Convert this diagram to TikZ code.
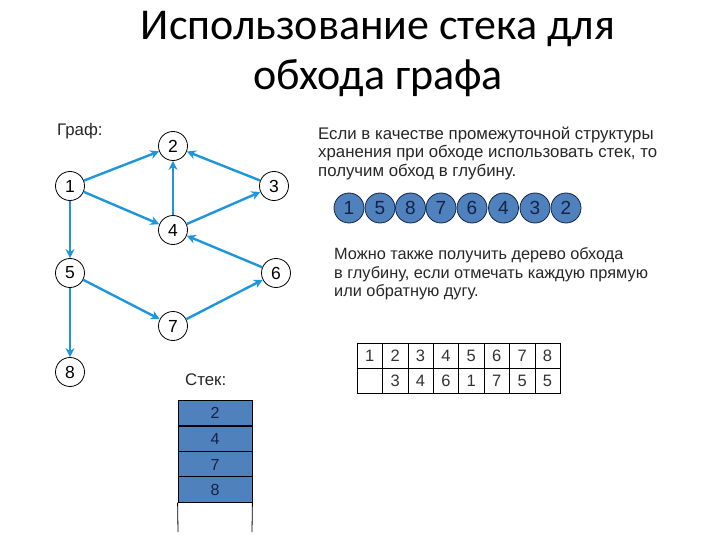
\documentclass[tikz,border=0pt]{standalone}
\usepackage{fontspec}
\setmainfont{Liberation Sans}
\newfontfamily\titlefont{Carlito}
\usetikzlibrary{arrows.meta}
\definecolor{edgeblue}{RGB}{30,150,220}
\definecolor{stackblue}{RGB}{79,129,189}
\definecolor{navy}{RGB}{20,35,70}
\begin{document}
\begin{tikzpicture}[x=1pt,y=-1pt,
 vtx/.style={circle,draw=black,line width=0.8pt,fill=white,minimum size=29pt,inner sep=0pt,font=\fontsize{17.5}{17.5}\selectfont},
 seq/.style={circle,draw=navy,line width=0.8pt,fill=stackblue,minimum size=30pt,inner sep=0pt,font=\fontsize{19}{19}\selectfont,text=navy},
 edge/.style={draw=edgeblue,line width=2.4pt,-{Stealth[length=9pt,width=9pt]}},
 body/.style={font=\fontsize{16.8}{18.6}\selectfont,align=left,inner sep=0pt,text=black!85},
 cell/.style={draw=black,line width=0.6pt,minimum width=25.4pt,minimum height=25pt,inner sep=0pt,font=\fontsize{16.5}{16.5}\selectfont,text=black!80},
 stk/.style={draw=black,line width=0.8pt,fill=stackblue,minimum width=74pt,minimum height=25.5pt,inner sep=0pt,font=\fontsize{16}{16}\selectfont,text=navy},
 ttl/.style={font=\titlefont\fontsize{44}{50}\selectfont,inner sep=0pt}
]
\useasboundingbox (0,0) rectangle (720,540);
% title
\node[ttl] (t1) at (378,29) {Использование стека для};
\node[ttl] (t2) at (378,78) {обхода графа};
% graph
\node[body,anchor=west] (glabel) at (57,131) {Граф:};
\node[vtx] (v1) at (70,186) {1};
\node[vtx] (v2) at (173,146) {2};
\node[vtx] (v3) at (274,186) {3};
\node[vtx] (v4) at (173,230) {4};
\node[vtx] (v5) at (70,273) {5};
\node[vtx] (v6) at (276,273) {6};
\node[vtx] (v7) at (173,326) {7};
\node[vtx] (v8) at (70,372) {8};
\draw[edge] (v1) -- (v2);
\draw[edge] (v3) -- (v2);
\draw[edge] (v4) -- (v2);
\draw[edge] (v1) -- (v4);
\draw[edge] (v4) -- (v3);
\draw[edge] (v1) -- (v5);
\draw[edge] (v6) -- (v4);
\draw[edge] (v5) -- (v7);
\draw[edge] (v7) -- (v6);
\draw[edge] (v5) -- (v8);
% text 1
\node[body,anchor=north west] (p1) at (318,126.5) {Если в качестве промежуточной структуры\\хранения при обходе использовать стек, то\\получим обход в глубину.};
% sequence
\node[seq] (s1) at (349,208) {1};
\node[seq] (s2) at (380,208) {5};
\node[seq] (s3) at (410.5,208) {8};
\node[seq] (s4) at (441,208) {7};
\node[seq] (s5) at (472,208) {6};
\node[seq] (s6) at (503.5,208) {4};
\node[seq] (s7) at (535,208) {3};
\node[seq] (s8) at (566,208) {2};
% text 2
\node[body,font=\fontsize{16.3}{18.6}\selectfont,anchor=north west] (p2) at (334,247.5) {Можно также получить дерево обхода\\в глубину, если отмечать каждую прямую\\или обратную дугу.};
% table
\foreach \i/\a/\b in {1/1/{},2/2/3,3/3/4,4/4/6,5/5/1,6/6/7,7/7/5,8/8/5}{
  \node[cell] (ta\i) at ({357+25.4*(\i-0.5)},355.5) {\a};
  \node[cell] (tb\i) at ({357+25.4*(\i-0.5)},380.5) {\b};
}
% stack
\node[body,anchor=west] (slabel) at (185,380) {Стек:};
\node[stk] (k1) at (215,413) {2};
\node[stk] (k2) at (215,439) {4};
\node[stk] (k3) at (215,464.5) {7};
\node[stk] (k4) at (215,489.5) {8};
\coordinate (kl) at (178,532);
\coordinate (kr) at (252,532);
\draw[line width=0.8pt] (k4.south west) -- (kl);
\draw[line width=0.8pt] (k4.south east) -- (kr);
\end{tikzpicture}
\end{document}
